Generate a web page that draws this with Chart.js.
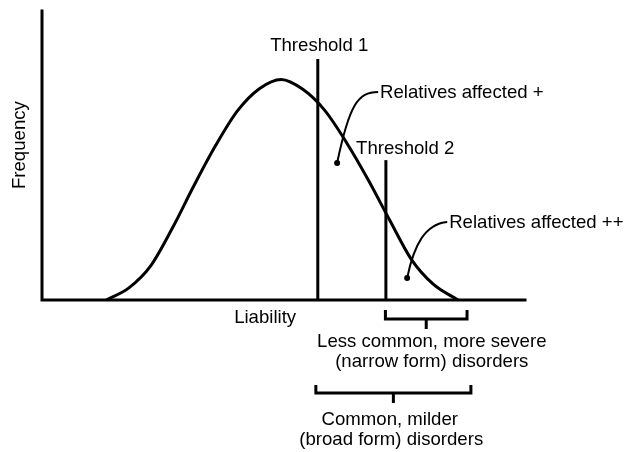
<!DOCTYPE html>
<html lang="en">
<head>
<meta charset="UTF-8">
<script src="https://cdn.jsdelivr.net/npm/chart.js@4.4.0/dist/chart.umd.min.js"></script>
<title>Liability threshold</title>
<style>
  body { margin: 0; background: #fff; }
  #wrap { width: 627px; height: 452px; position: relative; }
</style>
</head>
<body>
<div id="wrap"><canvas id="liab"></canvas></div>
<script>
// liability curve (x: liability, y: frequency, 0..100 units)
const liability = [13.3, 18, 22.5, 27, 31.5, 36, 40.5, 45, 49.5, 54, 58.5, 63, 67.5, 72, 76.5, 81, 86.1];
const frequency = [0, 4.2, 11.8, 24.9, 39.7, 53.6, 65.5, 73.1, 76.3, 72.9, 65.7, 54.6, 41.7, 27.6, 14.0, 5.5, 0];

// thresholds: position and how tall the line goes
const thresholdX = [57.1, 71.2];
const thresholdTop = [83.4, 48.4];
const thresholdLabels = ['Threshold 1', 'Threshold 2'];

// dots for the "relatives affected" callouts
const dotX = [61.1, 75.6];
const dotY = [47.4, 7.6];
const calloutLabels = ['Relatives affected +', 'Relatives affected ++'];

// brackets under the axis (from, to)
const narrowRange = [71.1, 88.0];
const broadRange = [56.7, 88.8];
const narrowText = ['Less common, more severe', '(narrow form) disorders'];
const broadText = ['Common, milder', '(broad form) disorders'];

const FONT = '18.6px "Liberation Sans", Arial, sans-serif';

function bracket(r, top, bot, tip) {
  const mid = (r[0] + r[1]) / 2;
  return [{x: r[0], y: top}, {x: r[0], y: bot}, {x: mid, y: bot}, {x: mid, y: tip},
          {x: mid, y: bot}, {x: r[1], y: bot}, {x: r[1], y: top}];
}

const curvePts = liability.map((x, i) => ({x: x, y: frequency[i]}));

const lineDs = (data, w) => ({
  data: data, showLine: true, borderColor: '#000', borderWidth: w,
  pointRadius: 0, clip: false, tension: 0
});

const datasets = [
  Object.assign(lineDs(curvePts, 3), {cubicInterpolationMode: 'monotone'}),
  lineDs([{x: thresholdX[0], y: 0}, {x: thresholdX[0], y: thresholdTop[0]}], 3),
  lineDs([{x: thresholdX[1], y: 0}, {x: thresholdX[1], y: thresholdTop[1]}], 3),
  lineDs(bracket(narrowRange, -3.5, -6.6, -10.0), 3),
  lineDs(bracket(broadRange, -29.4, -32.2, -35.6), 3),
  {
    data: dotX.map((x, i) => ({x: x, y: dotY[i]})), showLine: false,
    pointRadius: 3, pointBackgroundColor: '#000', pointBorderWidth: 0, clip: false
  }
];

const annotations = {
  id: 'annotations',
  afterDatasetsDraw(chart) {
    const c = chart.ctx, xs = chart.scales.x, ys = chart.scales.y, a = chart.chartArea;
    const px = (x, y) => [xs.getPixelForValue(x), ys.getPixelForValue(y)];
    c.save();
    // axes
    c.strokeStyle = '#000';
    c.lineWidth = 3;
    c.lineCap = 'square';
    c.beginPath();
    c.moveTo(a.left, a.top);
    c.lineTo(a.left, a.bottom);
    c.lineTo(a.right, a.bottom);
    c.stroke();

    // callout leaders
    c.lineWidth = 2;
    c.lineCap = 'butt';
    const leaders = [
      [[61.1, 47.4], [63.6, 67.5], [65.4, 72.0], [69.6, 72.0]],
      [[75.6, 7.6], [77.0, 19.0], [79.3, 26.3], [83.9, 27.0]]
    ];
    leaders.forEach(l => {
      const p = l.map(q => px(q[0], q[1]));
      c.beginPath();
      c.moveTo(p[0][0], p[0][1]);
      c.bezierCurveTo(p[1][0], p[1][1], p[2][0], p[2][1], p[3][0], p[3][1]);
      c.stroke();
    });

    // text
    c.fillStyle = '#000';
    c.font = FONT;
    c.textBaseline = 'middle';
    const text = (s, x, y, align) => {
      const p = px(x, y);
      c.textAlign = align || 'center';
      c.fillText(s, p[0], p[1]);
    };
    text(thresholdLabels[0], 57.4, 87.9);
    text(thresholdLabels[1], 75.2, 52.2);
    text(calloutLabels[0], 70.0, 71.6, 'left');
    text(calloutLabels[1], 84.3, 26.6, 'left');
    text('Liability', 46.2, -6.2);
    text(narrowText[0], 80.7, -14.5);
    text(narrowText[1], 80.7, -21.5);
    text(broadText[0], 72.0, -41.5);
    text(broadText[1], 72.3, -48.4);

    const f = px(-4.55, 53.6);
    c.translate(f[0], f[1]);
    c.rotate(-Math.PI / 2);
    c.textAlign = 'center';
    c.fillText('Frequency', 0, 0);
    c.restore();
  }
};

new Chart(document.getElementById('liab'), {
  type: 'scatter',
  data: {datasets: datasets},
  options: {
    responsive: true,
    maintainAspectRatio: false,
    animation: false,
    events: [],
    layout: {padding: {left: 42, right: 102, top: 11, bottom: 152}},
    plugins: {legend: {display: false}, tooltip: {enabled: false}},
    scales: {
      x: {type: 'linear', display: false, min: 0, max: 100},
      y: {type: 'linear', display: false, min: 0, max: 100}
    }
  },
  plugins: [annotations]
});
</script>
</body>
</html>
